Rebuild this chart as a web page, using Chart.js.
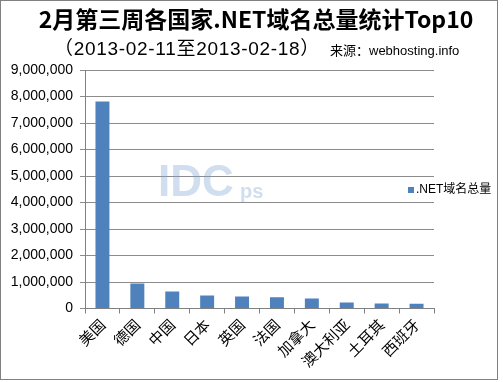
<!DOCTYPE html>
<html>
<head>
<meta charset="utf-8">
<script src="https://cdn.jsdelivr.net/npm/chart.js@4.4.1/dist/chart.umd.min.js"></script>
<style>
html,body{margin:0;padding:0;background:#fff;}
#wrap{position:relative;width:503px;height:382px;}
#frame{position:absolute;left:0;top:0;width:498px;height:380px;border:1px solid #808080;box-sizing:border-box;pointer-events:none;}
canvas{display:block;}
</style>
</head>
<body>
<div id="wrap">
<canvas id="c" width="503" height="382"></canvas>
<div id="frame"></div>
</div>
<script>
const categories = ["美国","德国","中国","日本","英国","法国","加拿大","澳大利亚","土耳其","西班牙"];
const netTotals = [7810000, 940000, 640000, 490000, 450000, 420000, 380000, 230000, 190000, 180000];
const seriesName = ".NET域名总量";
const titleText = "2月第三周各国家.NET域名总量统计Top10";
const subtitleText = "（2013-02-11至2013-02-18）";
const sourceText = "来源：webhosting.info";

const CJK = '"Noto Sans CJK SC", "Noto Sans", sans-serif';
const ARIAL = '"Liberation Sans", Arial, sans-serif';
const MIX = '"Liberation Sans", Arial, "Noto Sans CJK SC", sans-serif';

const decor = {
  id: 'decor',
  beforeDatasetsDraw(chart) {
    const ctx = chart.ctx;
    ctx.save();
    ctx.fillStyle = 'rgba(120,160,210,0.35)';
    ctx.font = 'bold 44px ' + ARIAL;
    ctx.textBaseline = 'middle';
    ctx.textAlign = 'left';
    ctx.fillText('IDC', 158, 184);
    ctx.font = 'bold 20px ' + ARIAL;
    ctx.fillText('ps', 240, 192);
    ctx.restore();
  },
  afterDraw(chart) {
    const ctx = chart.ctx;
    ctx.save();
    ctx.textBaseline = 'middle';
    ctx.fillStyle = '#000';
    ctx.font = 'bold 23px ' + CJK;
    ctx.textAlign = 'center';
    ctx.fillText(titleText, 256, 19);
    ctx.textAlign = 'left';
    ctx.font = '19px ' + MIX;
    ctx.letterSpacing = '0.7px';
    ctx.fillText(subtitleText, 54, 50);
    ctx.letterSpacing = '0px';
    ctx.font = '13px ' + MIX;
    ctx.fillText(sourceText, 330, 51);
    ctx.fillStyle = '#4f81bd';
    ctx.fillRect(408, 187, 6, 6);
    ctx.fillStyle = '#000';
    ctx.font = '12px ' + MIX;
    ctx.fillText(seriesName, 416, 190);
    ctx.restore();
  }
};

new Chart(document.getElementById('c'), {
  type: 'bar',
  data: {
    labels: categories,
    datasets: [{
      label: seriesName,
      data: netTotals,
      backgroundColor: '#4f81bd',
      borderWidth: 0,
      categoryPercentage: 1.0,
      barPercentage: 0.4
    }]
  },
  plugins: [decor],
  options: {
    responsive: false,
    animation: false,
    devicePixelRatio: 1,
    layout: { padding: { left: 0, right: 69, top: 70, bottom: 0 } },
    plugins: {
      legend: { display: false },
      title: { display: false },
      tooltip: { enabled: false }
    },
    scales: {
      x: {
        afterFit(s) { s.height = 73.5; },
        grid: {
          offset: true,
          drawOnChartArea: false,
          drawTicks: true,
          tickLength: 5,
          color: '#808080'
        },
        border: { display: true, color: '#808080', width: 1 },
        ticks: {
          maxRotation: 45,
          minRotation: 45,
          autoSkip: false,
          color: '#000',
          padding: 2,
          font: { family: CJK, size: 15 }
        }
      },
      y: {
        min: 0,
        max: 9000000,
        afterFit(s) { s.width = 85; },
        grid: {
          drawOnChartArea: true,
          drawTicks: true,
          tickLength: 5,
          color: '#8c8c8c'
        },
        border: { display: true, color: '#808080', width: 1 },
        ticks: {
          stepSize: 1000000,
          color: '#000',
          padding: 7,
          font: { family: ARIAL, size: 14 },
          callback: v => Number(v).toLocaleString('en-US')
        }
      }
    }
  }
});
</script>
</body>
</html>
